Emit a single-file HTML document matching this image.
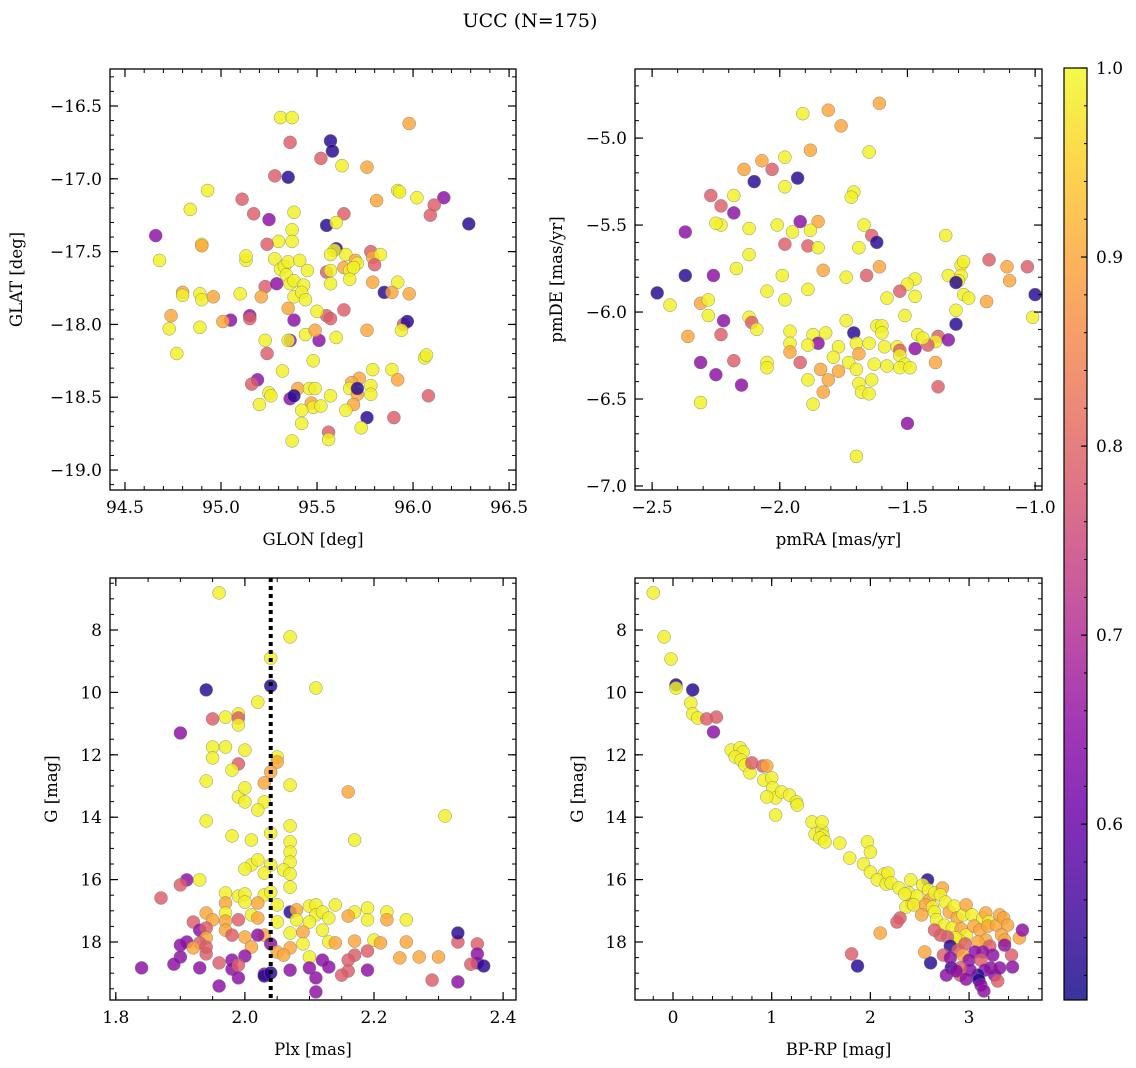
<!DOCTYPE html>
<html><head><meta charset="utf-8">
<style>
html,body{margin:0;padding:0;background:#fff;}
svg{display:block;font-family:"DejaVu Serif","Liberation Serif",serif;}
</style></head>
<body>
<svg id="fig" width="1136" height="1068" viewBox="0 0 1136 1068" xmlns="http://www.w3.org/2000/svg">
<text x="530" y="27" font-size="19" text-anchor="middle">UCC (N=175)</text>
</svg>
<script>
// ---- data: [x, y, membership probability] ----
const Y=0.99,O=0.90,M=0.79,P=0.65,D=0.53;
const skyPoints=[[95.31,-16.58,Y],[95.37,-16.58,Y],[95.98,-16.62,O],[95.36,-16.75,M],[95.57,-16.74,D],[95.58,-16.81,D],[95.52,-16.86,M],[95.28,-16.98,M],[95.35,-16.99,D],[95.63,-16.91,Y],[95.76,-16.92,O],[95.92,-17.08,Y],[95.93,-17.09,Y],[96.02,-17.13,Y],[96.16,-17.13,P],[96.11,-17.18,M],[96.09,-17.25,M],[94.93,-17.08,Y],[94.84,-17.21,Y],[95.11,-17.14,M],[95.81,-17.15,O],[96.29,-17.31,D],[94.66,-17.39,P],[94.68,-17.56,Y],[95.17,-17.24,M],[95.25,-17.28,P],[95.38,-17.23,Y],[95.37,-17.35,Y],[95.64,-17.24,M],[95.55,-17.32,D],[95.60,-17.30,Y],[95.37,-17.43,Y],[95.30,-17.43,Y],[95.24,-17.45,M],[95.60,-17.48,D],[95.59,-17.49,Y],[95.57,-17.52,Y],[95.65,-17.52,Y],[95.70,-17.56,O],[95.71,-17.58,Y],[95.78,-17.50,M],[95.79,-17.54,O],[95.83,-17.52,Y],[94.90,-17.45,Y],[94.90,-17.46,O],[95.13,-17.56,Y],[95.13,-17.53,Y],[95.28,-17.55,Y],[95.31,-17.62,Y],[95.33,-17.60,Y],[95.35,-17.57,Y],[95.41,-17.56,Y],[95.55,-17.64,M],[95.64,-17.61,O],[95.57,-17.63,Y],[95.67,-17.63,Y],[95.69,-17.61,Y],[95.80,-17.59,M],[95.92,-17.71,Y],[95.79,-17.71,O],[95.67,-17.69,Y],[95.57,-17.72,Y],[95.45,-17.63,Y],[95.34,-17.66,Y],[95.36,-17.72,Y],[95.38,-17.70,Y],[95.43,-17.73,Y],[95.23,-17.74,M],[95.29,-17.72,P],[95.21,-17.81,O],[95.38,-17.81,Y],[95.42,-17.78,Y],[95.44,-17.83,Y],[95.10,-17.79,Y],[94.89,-17.79,Y],[94.90,-17.83,Y],[94.80,-17.78,O],[94.80,-17.80,Y],[95.98,-17.79,O],[95.85,-17.78,D],[95.89,-17.78,O],[95.64,-17.90,M],[95.55,-17.94,M],[95.57,-17.96,M],[95.50,-17.91,Y],[95.38,-17.97,P],[95.35,-17.89,O],[95.15,-17.94,P],[95.15,-17.96,M],[95.05,-17.97,P],[95.01,-17.98,O],[94.74,-17.94,O],[94.89,-18.02,Y],[94.73,-18.03,Y],[95.95,-18.00,M],[95.97,-17.98,D],[95.94,-18.04,Y],[95.76,-18.04,O],[95.60,-18.09,Y],[95.44,-18.07,Y],[95.51,-18.11,P],[95.36,-18.11,P],[95.35,-18.11,Y],[95.23,-18.11,Y],[95.49,-18.04,O],[94.77,-18.20,Y],[95.24,-18.20,M],[96.06,-18.23,Y],[96.07,-18.21,Y],[95.48,-18.25,Y],[95.32,-18.32,Y],[95.89,-18.31,Y],[95.79,-18.31,Y],[95.72,-18.37,O],[95.68,-18.40,O],[95.67,-18.44,Y],[95.78,-18.42,Y],[95.78,-18.48,Y],[95.71,-18.48,O],[95.92,-18.38,O],[95.71,-18.44,D],[95.19,-18.38,P],[95.16,-18.41,M],[95.25,-18.47,Y],[95.26,-18.49,Y],[95.40,-18.44,O],[95.36,-18.51,P],[95.38,-18.49,D],[95.46,-18.44,Y],[95.49,-18.44,Y],[95.47,-18.54,O],[95.57,-18.49,Y],[95.20,-18.55,Y],[95.48,-18.57,Y],[95.69,-18.55,O],[95.65,-18.59,Y],[95.76,-18.64,D],[95.90,-18.64,M],[95.73,-18.71,Y],[95.56,-18.74,M],[95.56,-18.79,Y],[95.37,-18.80,Y],[96.08,-18.49,M],[95.52,-18.56,Y],[95.42,-18.59,Y],[95.42,-18.68,Y],[94.96,-17.81,O]];
const pmPoints=[[-1.61,-4.80,O],[-1.81,-4.84,O],[-1.91,-4.86,Y],[-1.76,-4.93,O],[-1.88,-5.07,O],[-1.65,-5.08,Y],[-2.14,-5.18,O],[-2.07,-5.13,O],[-1.98,-5.11,Y],[-1.93,-5.23,D],[-2.03,-5.18,M],[-2.10,-5.25,D],[-1.98,-5.28,Y],[-1.71,-5.31,Y],[-1.72,-5.34,Y],[-2.18,-5.33,Y],[-2.27,-5.33,M],[-2.23,-5.39,M],[-2.18,-5.43,P],[-2.23,-5.50,Y],[-2.25,-5.49,Y],[-2.37,-5.54,P],[-2.12,-5.52,Y],[-2.01,-5.50,Y],[-1.92,-5.48,P],[-1.85,-5.48,O],[-1.95,-5.54,Y],[-1.88,-5.53,Y],[-1.67,-5.50,Y],[-1.35,-5.56,Y],[-1.64,-5.56,M],[-1.89,-5.62,M],[-1.85,-5.63,Y],[-2.12,-5.67,Y],[-1.98,-5.61,M],[-1.62,-5.60,D],[-1.69,-5.63,Y],[-1.18,-5.70,M],[-1.03,-5.74,M],[-1.11,-5.74,O],[-1.29,-5.73,Y],[-1.28,-5.71,Y],[-2.17,-5.75,Y],[-1.83,-5.76,O],[-1.61,-5.74,O],[-1.66,-5.79,M],[-1.74,-5.80,Y],[-1.99,-5.79,Y],[-2.26,-5.79,P],[-2.37,-5.79,D],[-1.29,-5.79,Y],[-1.10,-5.82,O],[-1.34,-5.79,Y],[-1.47,-5.81,Y],[-1.30,-5.82,Y],[-1.50,-5.84,Y],[-1.89,-5.87,Y],[-2.05,-5.88,Y],[-1.53,-5.88,M],[-1.31,-5.83,D],[-1.28,-5.90,Y],[-1.00,-5.90,D],[-1.26,-5.92,Y],[-2.31,-5.95,O],[-1.98,-5.93,Y],[-1.58,-5.92,Y],[-1.47,-5.91,Y],[-2.43,-5.96,Y],[-2.48,-5.89,D],[-1.19,-5.94,O],[-2.28,-5.93,Y],[-2.12,-6.03,Y],[-2.28,-6.02,Y],[-1.51,-6.02,Y],[-1.31,-5.99,Y],[-1.74,-6.05,Y],[-2.11,-6.06,M],[-2.22,-6.05,P],[-1.01,-6.03,Y],[-1.31,-6.07,D],[-1.62,-6.08,Y],[-1.60,-6.08,Y],[-2.09,-6.10,Y],[-1.96,-6.11,Y],[-1.87,-6.13,Y],[-1.71,-6.12,D],[-1.82,-6.12,Y],[-1.60,-6.12,Y],[-1.46,-6.13,Y],[-1.38,-6.14,M],[-1.34,-6.16,P],[-1.39,-6.17,Y],[-2.36,-6.14,O],[-2.23,-6.13,M],[-1.85,-6.18,P],[-1.77,-6.20,Y],[-1.59,-6.20,Y],[-1.96,-6.18,Y],[-1.89,-6.19,Y],[-1.70,-6.18,Y],[-1.65,-6.18,Y],[-1.54,-6.20,Y],[-1.47,-6.21,P],[-1.53,-6.22,M],[-1.42,-6.19,M],[-1.44,-6.15,Y],[-1.96,-6.23,O],[-1.69,-6.24,O],[-1.53,-6.25,Y],[-2.31,-6.29,P],[-2.18,-6.28,M],[-1.92,-6.29,M],[-2.05,-6.29,Y],[-1.79,-6.26,Y],[-1.73,-6.29,Y],[-1.70,-6.33,Y],[-1.63,-6.30,Y],[-1.58,-6.31,Y],[-1.51,-6.30,Y],[-1.53,-6.32,Y],[-1.39,-6.29,O],[-2.25,-6.36,P],[-2.05,-6.32,Y],[-1.84,-6.33,O],[-1.77,-6.34,O],[-1.64,-6.39,Y],[-1.49,-6.32,Y],[-2.15,-6.42,P],[-1.81,-6.39,O],[-1.89,-6.39,Y],[-1.69,-6.41,Y],[-1.68,-6.46,Y],[-1.38,-6.43,M],[-1.83,-6.46,O],[-1.65,-6.47,Y],[-2.31,-6.52,Y],[-1.87,-6.53,Y],[-1.50,-6.64,P],[-1.70,-6.83,Y]];
const plxPoints=[[1.96,6.81,Y],[2.07,8.22,Y],[2.04,8.90,Y],[2.04,9.79,D],[1.94,9.92,D],[2.11,9.86,Y],[2.02,10.31,Y],[1.90,11.30,P],[1.95,10.85,M],[1.97,10.79,Y],[1.99,10.69,Y],[1.99,10.82,M],[1.99,11.04,Y],[2.05,12.07,Y],[2.05,12.23,O],[1.95,11.75,Y],[1.97,11.75,Y],[2.00,11.85,Y],[1.99,12.29,M],[1.98,12.49,Y],[1.95,12.10,Y],[2.04,12.55,O],[2.07,12.97,Y],[1.99,13.35,Y],[2.00,13.51,Y],[2.00,13.06,Y],[2.03,12.90,O],[2.03,13.51,Y],[2.02,13.77,Y],[1.94,12.84,Y],[1.94,14.12,Y],[1.98,14.60,Y],[2.04,14.51,Y],[2.01,14.73,Y],[2.31,13.96,Y],[2.07,14.79,Y],[2.07,14.28,Y],[2.16,13.19,O],[2.17,14.73,Y],[2.01,15.53,Y],[2.02,15.37,Y],[2.04,15.53,Y],[2.07,15.12,Y],[2.07,15.44,Y],[2.00,15.66,Y],[2.06,15.69,Y],[2.07,15.82,Y],[2.03,15.79,Y],[2.07,16.24,Y],[2.03,16.49,Y],[2.04,16.40,Y],[1.93,16.01,Y],[1.91,16.01,P],[1.90,16.17,M],[1.87,16.59,M],[1.97,16.43,Y],[1.99,16.53,Y],[2.00,16.46,Y],[1.97,16.75,O],[2.00,16.72,Y],[2.02,16.75,O],[2.05,16.81,Y],[2.07,17.04,D],[2.08,16.97,O],[2.10,16.85,Y],[2.11,16.81,Y],[2.11,17.13,Y],[2.12,17.04,Y],[2.14,16.81,Y],[2.17,17.04,Y],[2.19,16.91,Y],[2.22,17.04,Y],[2.25,17.29,Y],[2.01,17.13,Y],[1.97,17.07,Y],[1.97,17.33,O],[1.94,17.07,O],[1.95,17.29,O],[1.92,17.36,M],[1.93,17.62,P],[1.94,17.55,M],[1.97,17.62,O],[1.99,17.29,M],[2.02,17.23,O],[2.05,17.36,Y],[2.08,17.29,Y],[2.10,17.36,Y],[2.13,17.23,Y],[2.16,17.17,O],[2.19,17.29,Y],[2.22,17.29,O],[2.12,17.62,Y],[2.09,17.68,O],[2.07,17.71,Y],[2.03,17.78,O],[2.00,17.84,O],[1.98,17.78,M],[1.94,17.87,O],[1.91,18.00,P],[1.93,18.03,M],[1.90,18.10,P],[1.92,18.19,O],[1.94,18.38,M],[2.01,18.16,O],[2.02,17.78,P],[2.04,18.06,P],[2.09,18.06,Y],[2.13,18.00,Y],[2.14,18.03,O],[2.07,18.19,O],[2.05,18.32,O],[2.06,18.42,O],[2.10,18.48,Y],[2.17,17.97,O],[2.20,17.94,Y],[2.19,18.29,M],[2.17,18.42,M],[2.16,18.58,M],[2.21,18.03,O],[2.25,18.00,O],[2.33,18.00,M],[2.33,17.71,D],[2.36,18.06,M],[2.36,18.38,P],[2.30,18.48,O],[2.24,18.51,O],[2.27,18.48,O],[2.36,18.67,P],[2.37,18.77,D],[2.35,18.71,M],[1.90,18.48,P],[1.98,18.58,P],[1.96,18.67,M],[1.93,18.83,P],[1.98,18.87,P],[2.00,18.45,P],[1.99,18.74,M],[2.03,19.03,P],[2.07,18.90,P],[2.10,18.83,P],[2.12,18.58,P],[2.13,18.80,P],[2.16,18.93,M],[2.19,18.90,P],[1.84,18.83,P],[1.89,18.71,P],[1.96,19.41,P],[1.99,19.15,P],[2.03,19.09,D],[2.04,18.99,D],[2.11,19.15,P],[2.11,19.60,P],[2.15,19.06,M],[2.29,19.22,M],[2.33,19.28,P],[1.94,18.16,M]];
const cmdPoints=[[-0.20,6.81,Y],[-0.09,8.22,Y],[-0.02,8.93,Y],[0.03,9.76,D],[0.03,9.86,Y],[0.20,9.92,D],[0.18,10.34,Y],[0.20,10.69,Y],[0.25,10.82,Y],[0.34,10.85,M],[0.44,10.79,M],[0.41,11.27,P],[0.59,11.85,Y],[0.68,11.78,Y],[0.71,11.91,Y],[0.63,12.07,Y],[0.69,12.17,Y],[0.73,12.33,Y],[0.78,12.58,Y],[0.80,12.26,M],[0.91,12.36,M],[0.92,12.81,Y],[1.00,12.74,Y],[0.95,12.36,O],[1.01,13.06,Y],[1.04,13.38,Y],[0.95,13.35,Y],[1.10,13.19,Y],[1.18,13.29,Y],[1.25,13.51,Y],[1.26,13.61,Y],[1.04,13.93,Y],[1.41,14.15,Y],[1.44,14.54,Y],[1.51,14.44,Y],[1.52,14.60,Y],[1.49,14.67,Y],[1.51,14.15,Y],[1.54,14.79,Y],[1.69,14.83,Y],[1.79,15.31,Y],[1.93,15.50,Y],[1.97,14.79,Y],[2.00,15.76,Y],[2.00,15.12,Y],[2.14,15.82,Y],[2.07,16.01,Y],[2.16,16.14,Y],[2.18,15.79,Y],[2.21,16.11,Y],[2.29,16.27,Y],[2.39,16.43,Y],[2.42,16.78,O],[2.41,16.01,Y],[2.47,16.53,Y],[2.58,16.01,D],[2.53,16.17,Y],[2.59,16.33,Y],[2.60,16.65,O],[2.65,16.43,Y],[2.73,16.27,O],[2.71,16.49,Y],[2.35,16.46,Y],[2.36,16.88,Y],[2.44,16.81,Y],[2.56,16.81,O],[2.63,16.88,Y],[2.52,17.13,O],[2.65,17.04,Y],[2.76,16.72,Y],[2.80,17.04,O],[2.85,16.85,Y],[2.88,17.23,O],[2.94,17.13,Y],[2.97,16.81,O],[3.03,17.13,Y],[3.14,17.23,Y],[3.17,17.07,O],[3.20,17.36,Y],[2.67,17.29,Y],[2.75,17.46,Y],[2.83,17.55,Y],[2.92,17.58,O],[2.97,17.78,Y],[3.05,17.49,O],[3.11,17.62,O],[3.19,17.49,O],[3.28,17.46,O],[3.31,17.13,O],[3.35,17.23,O],[3.39,17.46,O],[3.51,17.87,O],[3.54,17.62,P],[3.33,17.78,O],[3.17,17.94,O],[2.91,17.97,Y],[2.86,17.87,Y],[2.78,17.84,M],[2.71,17.78,M],[2.65,17.62,M],[2.81,18.13,D],[2.89,18.26,M],[2.96,18.06,M],[3.09,18.00,O],[3.21,18.13,M],[3.36,17.94,O],[3.43,18.42,M],[3.44,18.80,P],[3.24,18.42,P],[3.14,18.32,P],[3.06,18.32,P],[2.94,18.42,O],[3.00,18.58,P],[3.12,18.58,M],[3.22,18.83,P],[3.16,18.90,P],[3.09,19.06,D],[3.01,18.90,P],[2.91,18.83,M],[2.82,18.83,D],[2.91,19.06,M],[3.10,19.22,D],[3.12,19.38,P],[3.15,19.57,P],[3.26,19.06,P],[3.29,19.25,M],[3.31,18.83,P],[2.77,19.06,P],[2.87,18.93,P],[2.97,19.19,P],[2.30,17.23,M],[2.27,17.36,M],[2.10,17.71,O],[1.81,18.38,M],[1.87,18.77,D],[2.61,18.67,D],[2.55,18.32,O],[2.74,18.42,M],[2.81,18.51,P],[3.36,18.10,P]];
const meanPlx=2.04;
const cbarTicks=[0.6,0.7,0.8,0.9,1.0];
const xTicks1=[94.5,95.0,95.5,96.0,96.5], yTicks1=[-16.5,-17.0,-17.5,-18.0,-18.5,-19.0];
const xTicks2=[-2.5,-2.0,-1.5,-1.0], yTicks2=[-5.0,-5.5,-6.0,-6.5,-7.0];
const xTicks3=[1.8,2.0,2.2,2.4], yTicksG=[8,10,12,14,16,18];
const xTicks4=[0,1,2,3];

const NS="http://www.w3.org/2000/svg";
const svg=document.getElementById('fig');
function el(tag,attrs,parent){const e=document.createElementNS(NS,tag);for(const k in attrs)e.setAttribute(k,attrs[k]);(parent||svg).appendChild(e);return e;}
const VMIN=0.507,VMAX=1.0;
const stops=["#0d0887","#41049d","#6a00a8","#8f0da4","#b12a90","#cc4778","#e16462","#f2844b","#fca636","#fcce25","#f0f921"];
function hex(h){return [1,3,5].map(i=>parseInt(h.substr(i,2),16));}
function plasma(t){t=Math.max(0,Math.min(1,t));const f=t*10,i=Math.min(9,Math.floor(f)),u=f-i;const a=hex(stops[i]),b=hex(stops[i+1]);return 'rgb('+a.map((v,k)=>Math.round(v+(b[k]-v)*u)).join(',')+')';}
function cmap(v){return plasma((v-VMIN)/(VMAX-VMIN));}
function fmt(v,d){const s=Math.abs(v).toFixed(d);return (v<0?'\u2212':'')+s;}
const TF=17, LF=16.5;

function panel(cfg){
  const {name,x0,x1,y0,y1,xmin,xmax,ymin,ymax,invertY,xt,yt,xMinor,yMinor,xd,yd,xlabel,ylabel,ylabX,pts}=cfg;
  const g=el('g',{});
  
  
  const sx=v=>x0+(v-xmin)/(xmax-xmin)*(x1-x0);
  const sy=v=>invertY? y0+(v-ymin)/(ymax-ymin)*(y1-y0) : y1-(v-ymin)/(ymax-ymin)*(y1-y0);
  const clipId='clip-'+name;
  const cp=el('clipPath',{id:clipId},g);el('rect',{x:x0,y:y0,width:x1-x0,height:y1-y0},cp);
  const pg=el('g',{'clip-path':'url(#'+clipId+')'},g);
  pts.forEach(p=>{
    const c=el('circle',{cx:sx(p[0]).toFixed(1),cy:sy(p[1]).toFixed(1),r:6.5,fill:cmap(p[2]),'fill-opacity':0.82,stroke:'#777',"stroke-width":0.5,"stroke-opacity":0.8},pg);
    
    
  });
  if(cfg.vline!==undefined){
    const l=el('line',{x1:sx(cfg.vline),x2:sx(cfg.vline),y1:y0,y2:y1,stroke:'#000','stroke-width':4,'stroke-dasharray':'4,4'},pg);
    
    
  }
  const fr=el('rect',{x:x0,y:y0,width:x1-x0,height:y1-y0,fill:'none',stroke:'#000','stroke-width':1.3},g);
  
  
  const eps=1e-9;
  for(let v=Math.ceil(xmin/xMinor)*xMinor;v<=xmax+eps;v+=xMinor){const X=sx(v);
    el('line',{x1:X,x2:X,y1:y1,y2:y1-4,stroke:'#000','stroke-width':1},g);el('line',{x1:X,x2:X,y1:y0,y2:y0+4,stroke:'#000','stroke-width':1},g);}
  const ya=Math.min(ymin,ymax),yb=Math.max(ymin,ymax);
  for(let v=Math.ceil(ya/yMinor)*yMinor;v<=yb+eps;v+=yMinor){const Yp=sy(v);
    el('line',{x1:x0,x2:x0+4,y1:Yp,y2:Yp,stroke:'#000','stroke-width':1},g);el('line',{x1:x1,x2:x1-4,y1:Yp,y2:Yp,stroke:'#000','stroke-width':1},g);}
  xt.forEach(v=>{const X=sx(v);
    el('line',{x1:X,x2:X,y1:y1,y2:y1-8,stroke:'#000','stroke-width':1.2},g);el('line',{x1:X,x2:X,y1:y0,y2:y0+8,stroke:'#000','stroke-width':1.2},g);
    const t=el('text',{x:X,y:y1+23,'font-size':TF,'text-anchor':'middle'},g);t.textContent=fmt(v,xd);
    
    });
  yt.forEach(v=>{const Yp=sy(v);
    el('line',{x1:x0,x2:x0+8,y1:Yp,y2:Yp,stroke:'#000','stroke-width':1.2},g);el('line',{x1:x1,x2:x1-8,y1:Yp,y2:Yp,stroke:'#000','stroke-width':1.2},g);
    const t=el('text',{x:x0-8,y:Yp+6,'font-size':TF,'text-anchor':'end'},g);t.textContent=fmt(v,yd);
    
    });
  const xl=el('text',{x:(x0+x1)/2,y:y1+55,'font-size':LF,'text-anchor':'middle'},g);xl.textContent=xlabel;
  
  
  const yc=(y0+y1)/2;
  const yl=el('text',{x:ylabX,y:yc,'font-size':LF,'text-anchor':'middle',transform:'rotate(-90 '+ylabX+' '+yc+')'},g);yl.textContent=ylabel;
  
  
}
panel({name:'sky-panel',x0:110,x1:516,y0:69,y1:490,xmin:94.422,xmax:96.536,ymin:-19.137,ymax:-16.246,invertY:false,xt:xTicks1,yt:yTicks1,xMinor:0.1,yMinor:0.1,xd:1,yd:1,xlabel:'GLON [deg]',ylabel:'GLAT [deg]',ylabX:22,pts:skyPoints});
panel({name:'proper-motion-panel',x0:635,x1:1042,y0:69,y1:490,xmin:-2.567,xmax:-0.973,ymin:-7.023,ymax:-4.603,invertY:false,xt:xTicks2,yt:yTicks2,xMinor:0.1,yMinor:0.1,xd:1,yd:1,xlabel:'pmRA [mas/yr]',ylabel:'pmDE [mas/yr]',ylabX:562,pts:pmPoints});
panel({name:'parallax-panel',x0:110,x1:516,y0:578,y1:1000,xmin:1.791,xmax:2.420,ymin:6.333,ymax:19.859,invertY:true,xt:xTicks3,yt:yTicksG,xMinor:0.05,yMinor:0.5,xd:1,yd:0,xlabel:'Plx [mas]',ylabel:'G [mag]',ylabX:57,pts:plxPoints,vline:meanPlx});
panel({name:'cmd-panel',x0:635,x1:1042,y0:578,y1:1000,xmin:-0.385,xmax:3.739,ymin:6.333,ymax:19.859,invertY:true,xt:xTicks4,yt:yTicksG,xMinor:0.2,yMinor:0.5,xd:0,yd:0,xlabel:'BP-RP [mag]',ylabel:'G [mag]',ylabX:583,pts:cmdPoints});

(function(){
  const cx0=1064,cx1=1087,cy0=68,cy1=1000;
  const g=el('g',{});
  
  
  const defs=el('defs',{},g);
  const lg=el('linearGradient',{id:'cbg',x1:0,y1:1,x2:0,y2:0},defs);
  for(let i=0;i<=20;i++){const t=i/20;el('stop',{offset:t,'stop-color':plasma(t),'stop-opacity':0.82},lg);}
  el('rect',{x:cx0,y:cy0,width:cx1-cx0,height:cy1-cy0,fill:'url(#cbg)',stroke:'#000','stroke-width':1.2},g);
  const sy=v=>cy1-(v-VMIN)/(VMAX-VMIN)*(cy1-cy0);
  for(let v=0.52;v<=1.0001;v+=0.02){const Y=sy(v);el('line',{x1:cx1,x2:cx1-3,y1:Y,y2:Y,stroke:'#000','stroke-width':1},g);}
  cbarTicks.forEach(v=>{const Y=sy(v);el('line',{x1:cx1,x2:cx1-6,y1:Y,y2:Y,stroke:'#000','stroke-width':1.2},g);
    const t=el('text',{x:cx1+9,y:Y+6,'font-size':TF},g);t.textContent=v.toFixed(1);
    
    });
})();
</script>
</body></html>
